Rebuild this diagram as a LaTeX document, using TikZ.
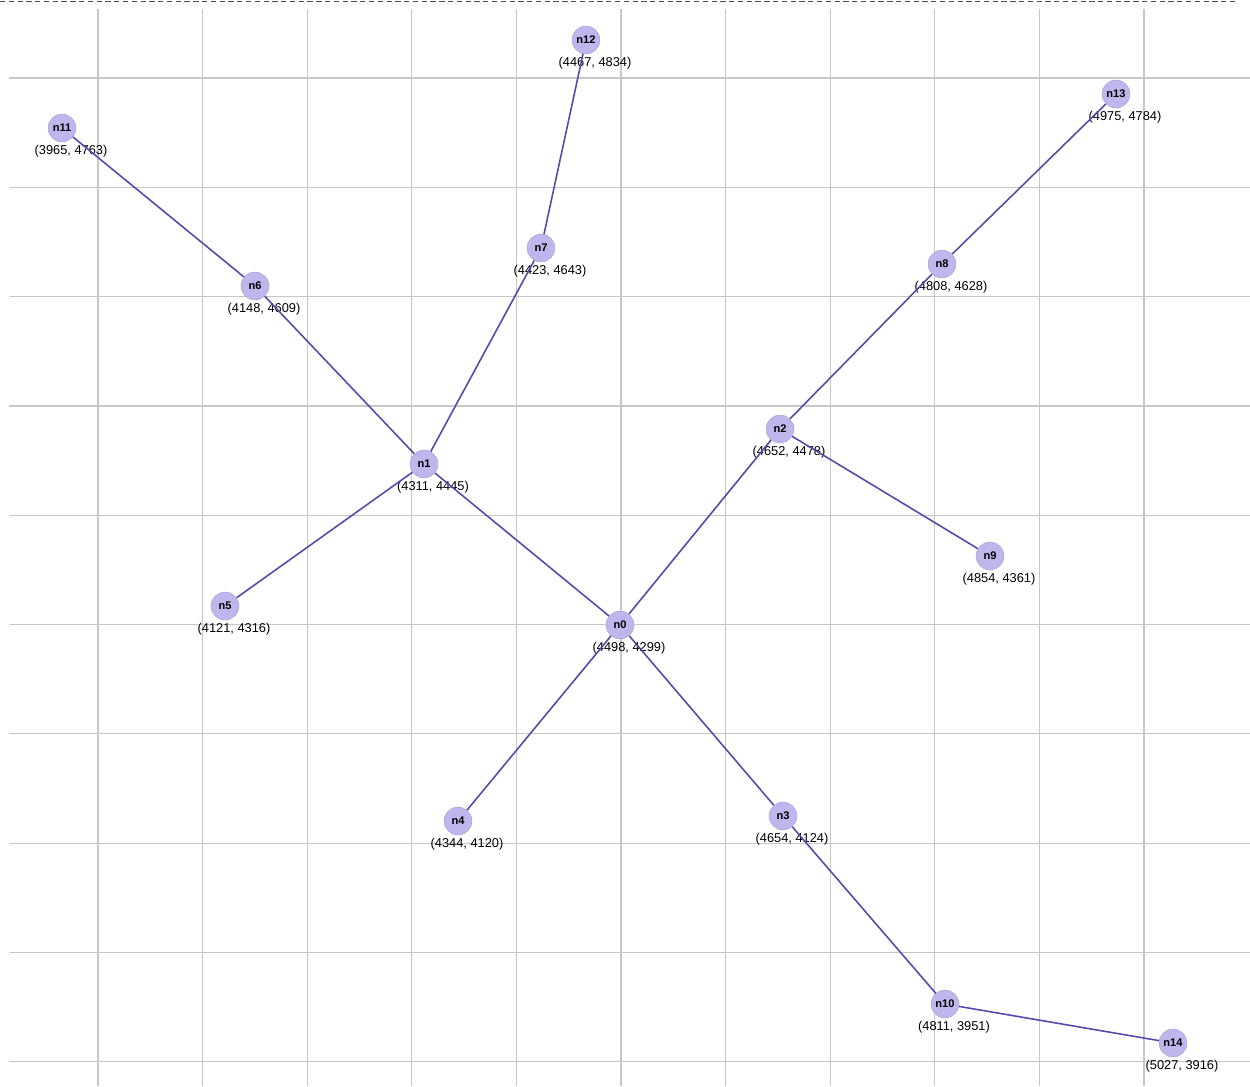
\documentclass[tikz,border=0pt]{standalone}
\usepackage{fontspec}
\setmainfont{Liberation Sans}
\begin{document}
\begin{tikzpicture}[x=0.02cm, y=-0.02cm,
  vertex/.style={circle, fill=nodefill, draw=nodefill!85!black, line width=0.2pt,
    minimum size=0.56cm, inner sep=0pt, font=\fontsize{6.3}{7}\selectfont\bfseries},
  coordlab/.style={inner sep=0pt, font=\fontsize{7.3}{8}\selectfont},
  edge/.style={draw=edgecol, line width=0.9pt},
  gridline/.style={draw=black!22, line width=0.7pt}]

  \definecolor{nodefill}{RGB}{190,182,236}
  \definecolor{edgecol}{RGB}{84,74,172}

  \useasboundingbox (0,0) rectangle (1250,1086);

  % Top rule
  \draw[black!70, dashed, dash pattern=on 3pt off 2pt] (0,1) -- (1237,1);

  % Grid
  \foreach \k in {0,...,10}
    \draw[gridline] (98+104.6*\k,9) -- (98+104.6*\k,1086);
  \foreach \k in {0,...,9}
    \draw[gridline] (9,78+109.3*\k) -- (1250,78+109.3*\k);

  % Nodes with their coordinate labels
  \foreach \name/\px/\py/\txt in {
      n0/620/625/{(4498, 4299)},
      n1/424/464/{(4311, 4445)},
      n2/780/429/{(4652, 4478)},
      n3/783/816/{(4654, 4124)},
      n4/458/821/{(4344, 4120)},
      n5/225/606/{(4121, 4316)},
      n6/255/286/{(4148, 4609)},
      n7/541/248/{(4423, 4643)},
      n8/942/264/{(4808, 4628)},
      n9/990/556/{(4854, 4361)},
      n10/945/1004/{(4811, 3951)},
      n11/62/128/{(3965, 4763)},
      n12/586/40/{(4467, 4834)},
      n13/1116/94/{(4975, 4784)},
      n14/1173/1043/{(5027, 3916)}} {
    \node[coordlab] (\name-lab) at (\px+9,\py+23) {\txt};
    \node[vertex] (\name) at (\px,\py) {\name};
  }

  % Edges
  \foreach \a/\b in {n0/n1, n0/n2, n0/n3, n0/n4, n1/n5, n1/n6, n1/n7,
      n2/n8, n2/n9, n3/n10, n6/n11, n7/n12, n8/n13, n10/n14}
    \draw[edge] (\a) -- (\b);

\end{tikzpicture}
\end{document}
